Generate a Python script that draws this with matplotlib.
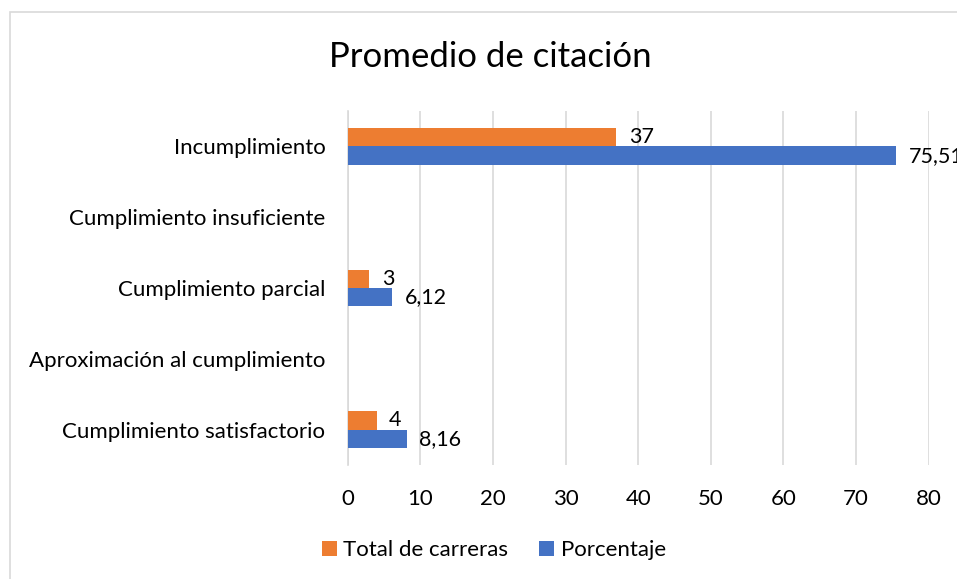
import numpy as np
import matplotlib
matplotlib.use("Agg")
import matplotlib.pyplot as plt
from matplotlib.patches import Rectangle

plt.rcParams["font.family"] = ["Lato", "DejaVu Sans"]

# Categories listed bottom to top, as drawn
categories = [
    "Cumplimiento satisfactorio",
    "Aproximación al cumplimiento",
    "Cumplimiento parcial",
    "Cumplimiento insuficiente",
    "Incumplimiento",
]
total_carreras = [4, np.nan, 3, np.nan, 37]
porcentaje = [8.16, np.nan, 6.12, np.nan, 75.51]
x_ticks = [0, 10, 20, 30, 40, 50, 60, 70, 80]

ORANGE = "#ED7D31"
BLUE = "#4472C4"
GRID = "#D9D9D9"

fig = plt.figure(figsize=(9.57, 5.79), dpi=100)
ax = fig.add_axes([0.3633, 0.1969, 0.6071, 0.6114])

y = np.arange(len(categories))
h = 0.26
bars_tot = ax.barh(y + h / 2, total_carreras, height=h, color=ORANGE,
                   label="Total de carreras", zorder=3)
bars_pct = ax.barh(y - h / 2, porcentaje, height=h, color=BLUE,
                   label="Porcentaje", zorder=3)


def fmt(v):
    s = f"{v:g}"
    return s.replace(".", ",")


for bars, vals in ((bars_tot, total_carreras), (bars_pct, porcentaje)):
    for rect, v in zip(bars, vals):
        if np.isnan(v):
            continue
        ax.annotate(fmt(v), (v, rect.get_y() + rect.get_height() / 2),
                    xytext=(9, 0), textcoords="offset points",
                    va="center", ha="left", fontsize=15.5, color="#000000",
                    annotation_clip=False)

ax.set_xlim(0, 80)
ax.set_ylim(-0.5, len(categories) - 0.5)
ax.set_xticks(x_ticks)
ax.set_yticks(y)
ax.set_yticklabels(categories)
ax.tick_params(axis="both", length=0, labelsize=16, colors="#000000")
ax.tick_params(axis="x", pad=17)
ax.tick_params(axis="y", pad=16)
ax.grid(axis="x", color=GRID, linewidth=1.2, zorder=0)
for side in ("top", "right", "bottom"):
    ax.spines[side].set_visible(False)
ax.spines["left"].set_color(GRID)
ax.spines["left"].set_linewidth(1.2)

fig.text(490 / 957, 1 - 57 / 579, "Promedio de citación", ha="center",
         va="center", fontsize=25, color="#000000")

handles, labels = ax.get_legend_handles_labels()
fig.legend(handles, labels, loc="center", bbox_to_anchor=(494 / 957, 1 - 550 / 579),
           ncol=2, frameon=False, fontsize=16, handlelength=0.65, handleheight=0.65,
           handletextpad=0.3, columnspacing=1.4)

# light frame around the chart area
fig.patches.append(Rectangle((10 / 957, -0.1), 1.2, 1.1 - 12 / 579,
                             transform=fig.transFigure, fill=False,
                             edgecolor=GRID, linewidth=1.2))

fig.savefig("out.png", dpi=100)
